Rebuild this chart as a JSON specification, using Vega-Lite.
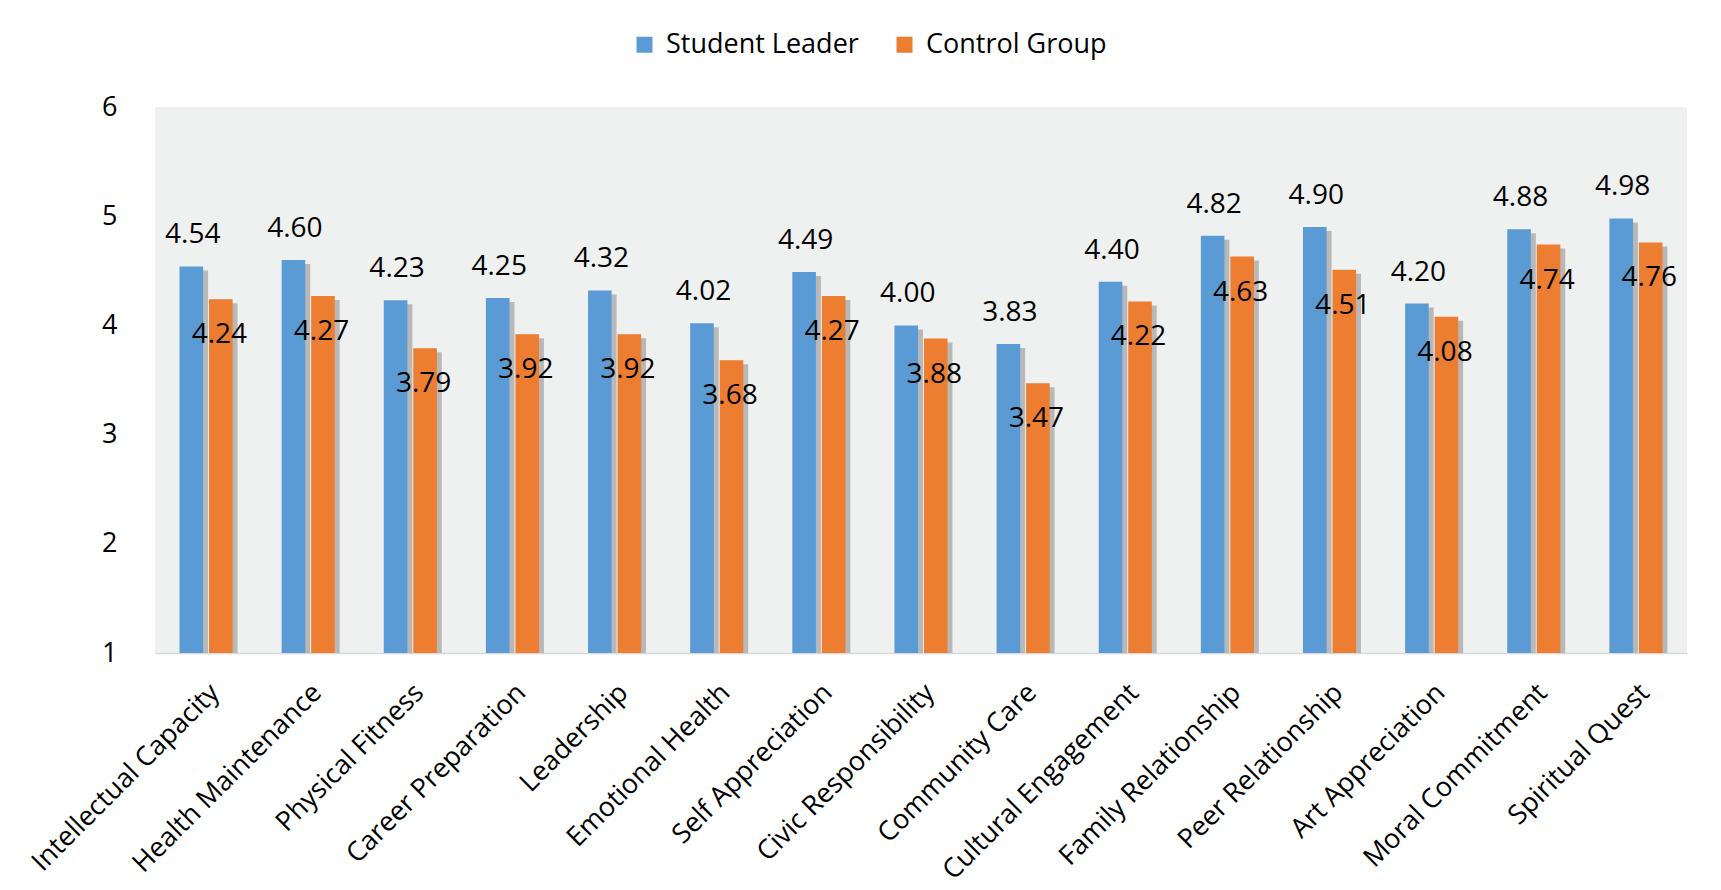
{
  "$schema": "https://vega.github.io/schema/vega-lite/v6.json",
  "width": 1532,
  "height": 546,
  "autosize": {"type": "none"},
  "padding": {"left": 155, "top": 107, "right": 34, "bottom": 237},
  "background": "white",
  "config": {
    "font": "Open Sans",
    "view": {"fill": "#EFF0F0", "stroke": null}
  },
  "data": {
    "values": [
      {"category": "Intellectual Capacity", "group": "Student Leader", "value": 4.54},
      {"category": "Intellectual Capacity", "group": "Control Group", "value": 4.24},
      {"category": "Health Maintenance", "group": "Student Leader", "value": 4.60},
      {"category": "Health Maintenance", "group": "Control Group", "value": 4.27},
      {"category": "Physical Fitness", "group": "Student Leader", "value": 4.23},
      {"category": "Physical Fitness", "group": "Control Group", "value": 3.79},
      {"category": "Career Preparation", "group": "Student Leader", "value": 4.25},
      {"category": "Career Preparation", "group": "Control Group", "value": 3.92},
      {"category": "Leadership", "group": "Student Leader", "value": 4.32},
      {"category": "Leadership", "group": "Control Group", "value": 3.92},
      {"category": "Emotional Health", "group": "Student Leader", "value": 4.02},
      {"category": "Emotional Health", "group": "Control Group", "value": 3.68},
      {"category": "Self Appreciation", "group": "Student Leader", "value": 4.49},
      {"category": "Self Appreciation", "group": "Control Group", "value": 4.27},
      {"category": "Civic Responsibility", "group": "Student Leader", "value": 4.00},
      {"category": "Civic Responsibility", "group": "Control Group", "value": 3.88},
      {"category": "Community Care", "group": "Student Leader", "value": 3.83},
      {"category": "Community Care", "group": "Control Group", "value": 3.47},
      {"category": "Cultural Engagement", "group": "Student Leader", "value": 4.40},
      {"category": "Cultural Engagement", "group": "Control Group", "value": 4.22},
      {"category": "Family Relationship", "group": "Student Leader", "value": 4.82},
      {"category": "Family Relationship", "group": "Control Group", "value": 4.63},
      {"category": "Peer Relationship", "group": "Student Leader", "value": 4.90},
      {"category": "Peer Relationship", "group": "Control Group", "value": 4.51},
      {"category": "Art Appreciation", "group": "Student Leader", "value": 4.20},
      {"category": "Art Appreciation", "group": "Control Group", "value": 4.08},
      {"category": "Moral Commitment", "group": "Student Leader", "value": 4.88},
      {"category": "Moral Commitment", "group": "Control Group", "value": 4.74},
      {"category": "Spiritual Quest", "group": "Student Leader", "value": 4.98},
      {"category": "Spiritual Quest", "group": "Control Group", "value": 4.76}
    ]
  },
  "resolve": {"scale": {"xOffset": "independent"}},
  "encoding": {
    "x": {
      "field": "category",
      "type": "nominal",
      "sort": null,
      "scale": {"paddingInner": 0.48, "paddingOuter": 0.24},
      "axis": {
        "title": null,
        "labelAngle": -45,
        "labelFontSize": 27,
        "labelColor": "black",
        "labelPadding": 26,
        "ticks": false,
        "domainColor": "#D9D9D9",
        "domainWidth": 1.5,
        "labelLimit": 400
      }
    },
    "y": {
      "field": "value",
      "type": "quantitative",
      "scale": {"domain": [1, 6], "zero": false, "nice": false},
      "axis": {
        "title": null,
        "values": [1, 2, 3, 4, 5, 6],
        "labelFontSize": 27,
        "labelColor": "black",
        "labelPadding": 38,
        "ticks": false,
        "domain": false,
        "grid": false
      }
    }
  },
  "layer": [
    {
      "mark": {"type": "bar", "color": "#8A8A8A", "opacity": 0.55, "yOffset": 4},
      "encoding": {
        "xOffset": {
          "field": "group",
          "type": "nominal",
          "sort": ["Student Leader", "Control Group"],
          "scale": {"paddingInner": 0.2, "range": [5, 58]}
        },
        "y2": {"datum": 1}
      }
    },
    {
      "mark": {"type": "bar"},
      "encoding": {
        "xOffset": {
          "field": "group",
          "type": "nominal",
          "sort": ["Student Leader", "Control Group"],
          "scale": {"paddingInner": 0.2}
        },
        "y2": {"datum": 1},
        "color": {
          "field": "group",
          "type": "nominal",
          "sort": ["Student Leader", "Control Group"],
          "scale": {"domain": ["Student Leader", "Control Group"], "range": ["#5B9BD5", "#ED7D31"]},
          "legend": {
            "title": null,
            "orient": "none",
            "direction": "horizontal",
            "legendX": 476,
            "legendY": -76,
            "symbolType": "square",
            "symbolSize": 256,
            "symbolStrokeWidth": 0,
            "labelFontSize": 27,
            "labelColor": "black",
            "labelOffset": 8,
            "labelLimit": 400,
            "columnPadding": 32
          }
        }
      }
    },
    {
      "transform": [{"filter": "datum.group === 'Student Leader'"}],
      "mark": {"type": "text", "fontSize": 28, "baseline": "alphabetic", "dy": -23, "color": "black"},
      "encoding": {
        "xOffset": {
          "field": "group",
          "type": "nominal",
          "sort": ["Student Leader", "Control Group"],
          "scale": {"domain": ["Student Leader", "Control Group"], "paddingInner": 0.2}
        },
        "text": {"field": "value", "type": "quantitative", "format": ".2f"}
      }
    },
    {
      "transform": [{"filter": "datum.group === 'Control Group'"}],
      "mark": {"type": "text", "fontSize": 28, "baseline": "alphabetic", "dy": 44, "color": "black"},
      "encoding": {
        "xOffset": {
          "field": "group",
          "type": "nominal",
          "sort": ["Student Leader", "Control Group"],
          "scale": {"domain": ["Student Leader", "Control Group"], "paddingInner": 0.2}
        },
        "text": {"field": "value", "type": "quantitative", "format": ".2f"}
      }
    }
  ]
}
